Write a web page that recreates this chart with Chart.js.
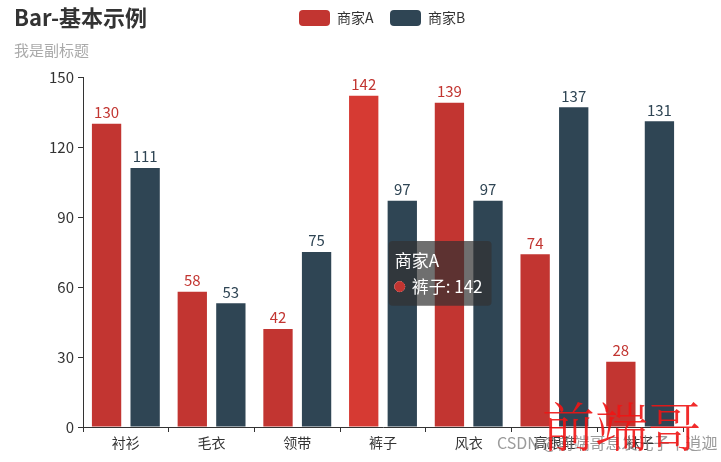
<!DOCTYPE html>
<html>
<head>
<meta charset="utf-8">
<script src="https://cdn.jsdelivr.net/npm/chart.js@4"></script>
<style>
  html, body { margin: 0; padding: 0; background: #fff; }
  #wrap { width: 721px; height: 462px; position: relative; }
</style>
</head>
<body>
<div id="wrap"><canvas id="myChart"></canvas></div>
<script>
const categories = ["衬衫", "毛衣", "领带", "裤子", "风衣", "高跟鞋", "袜子"];
const seriesA = [130, 58, 42, 142, 139, 74, 28];
const seriesB = [111, 53, 75, 97, 97, 137, 131];
const yTicks = [0, 30, 60, 90, 120, 150];

const colorA = "#c23531";
const colorB = "#2f4554";
const hoverA = "#d63a33";
const font = "'Noto Sans CJK SC', 'Microsoft YaHei', sans-serif";

// the bar the tooltip points at
const activeIndex = 3;

Chart.Tooltip.positioners.fixedSpot = function (elements) {
  if (!elements.length) return false;
  const el = elements[0].element;
  return { x: el.x + 29, y: this.chart.chartArea.top + 164, xAlign: "left", yAlign: "top" };
};

const headerPlugin = {
  id: "header",
  afterDraw(chart) {
    const ctx = chart.ctx;
    ctx.save();
    ctx.textBaseline = "middle";
    ctx.textAlign = "left";
    ctx.fillStyle = "#333";
    ctx.font = "bold 22px " + font;
    ctx.fillText("Bar-基本示例", 14, 18);
    ctx.fillStyle = "#aaa";
    ctx.font = "15px " + font;
    ctx.fillText("我是副标题", 14, 50);

    // legend
    const items = [["商家A", colorA, 299], ["商家B", colorB, 390]];
    items.forEach(([name, c, x]) => {
      ctx.fillStyle = c;
      ctx.beginPath();
      ctx.roundRect(x, 10, 31, 16, 4);
      ctx.fill();
      ctx.fillStyle = "#333";
      ctx.font = "14px " + font;
      ctx.fillText(name, x + 38, 18);
    });
    ctx.restore();
  },
};

const valueLabels = {
  id: "valueLabels",
  afterDatasetsDraw(chart) {
    const ctx = chart.ctx;
    ctx.save();
    ctx.font = "15px " + font;
    ctx.textAlign = "center";
    ctx.textBaseline = "bottom";
    chart.data.datasets.forEach((ds, di) => {
      const meta = chart.getDatasetMeta(di);
      ctx.fillStyle = di === 0 ? colorA : colorB;
      meta.data.forEach((bar, i) => {
        ctx.fillText(ds.data[i], bar.x, bar.y - 4);
      });
    });
    ctx.restore();
  },
};

const watermark = {
  id: "watermark",
  afterDraw(chart) {
    const ctx = chart.ctx;
    ctx.save();
    ctx.textAlign = "left";
    ctx.textBaseline = "alphabetic";
    ctx.fillStyle = "rgba(130,130,130,0.8)";
    ctx.font = "16px " + font;
    ctx.fillText("CSDN @前端哥息发光子丨逍迦", 497, 449);
    ctx.fillStyle = "rgba(240,20,20,0.9)";
    ctx.font = "300 53px 'Noto Serif CJK SC', serif, " + font;
    ctx.fillText("前端哥", 542, 447);
    ctx.restore();
  },
};

const chart = new Chart(document.getElementById("myChart"), {
  type: "bar",
  data: {
    labels: categories,
    datasets: [
      {
        label: "商家A",
        data: seriesA,
        backgroundColor: seriesA.map((v, i) => (i === activeIndex ? hoverA : colorA)),
        hoverBackgroundColor: seriesA.map((v, i) => (i === activeIndex ? hoverA : colorA)),
        categoryPercentage: 0.9,
        barPercentage: 0.76,
      },
      {
        label: "商家B",
        data: seriesB,
        backgroundColor: colorB,
        hoverBackgroundColor: colorB,
        categoryPercentage: 0.9,
        barPercentage: 0.76,
      },
    ],
  },
  options: {
    responsive: true,
    maintainAspectRatio: false,
    animation: false,
    events: [],
    layout: { padding: { top: 77, right: 38, bottom: 0, left: 0 } },
    plugins: {
      legend: { display: false },
      title: { display: false },
      tooltip: {
        enabled: true,
        position: "fixedSpot",
        backgroundColor: "rgba(50,50,50,0.7)",
        cornerRadius: 4,
        caretSize: 0,
        caretPadding: 0,
        padding: { top: 9, bottom: 9, left: 6, right: 9 },
        titleFont: { family: font, size: 17, weight: "normal" },
        bodyFont: { family: font, size: 17 },
        titleMarginBottom: 6,
        usePointStyle: true,
        boxWidth: 10,
        boxHeight: 10,
        boxPadding: 5,
        displayColors: true,
        callbacks: {
          title: (items) => items[0].dataset.label,
          label: (item) => categories[item.dataIndex] + ": " + item.raw,
          labelColor: () => ({ backgroundColor: colorA, borderColor: colorA }),
          labelPointStyle: () => ({ pointStyle: "circle", rotation: 0 }),
        },
      },
    },
    scales: {
      x: {
        offset: true,
        afterFit: (s) => { s.height = 35; },
        border: { color: "#333", width: 1 },
        grid: { offset: true, drawOnChartArea: false, drawTicks: true, tickLength: 5, color: "#333" },
        ticks: { color: "#333", font: { family: font, size: 14 }, padding: 2 },
      },
      y: {
        min: 0,
        max: 150,
        afterFit: (s) => { s.width = 83; },
        afterBuildTicks: (s) => { s.ticks = yTicks.map((v) => ({ value: v })); },
        border: { color: "#333", width: 1 },
        grid: { drawOnChartArea: false, drawTicks: true, tickLength: 5, color: "#333" },
        ticks: { color: "#333", font: { family: font, size: 15 }, padding: 4 },
      },
    },
  },
  plugins: [headerPlugin, valueLabels, watermark],
});

chart.setActiveElements([{ datasetIndex: 0, index: activeIndex }]);
chart.tooltip.setActiveElements([{ datasetIndex: 0, index: activeIndex }], { x: 0, y: 0 });
chart.update();
</script>
</body>
</html>
